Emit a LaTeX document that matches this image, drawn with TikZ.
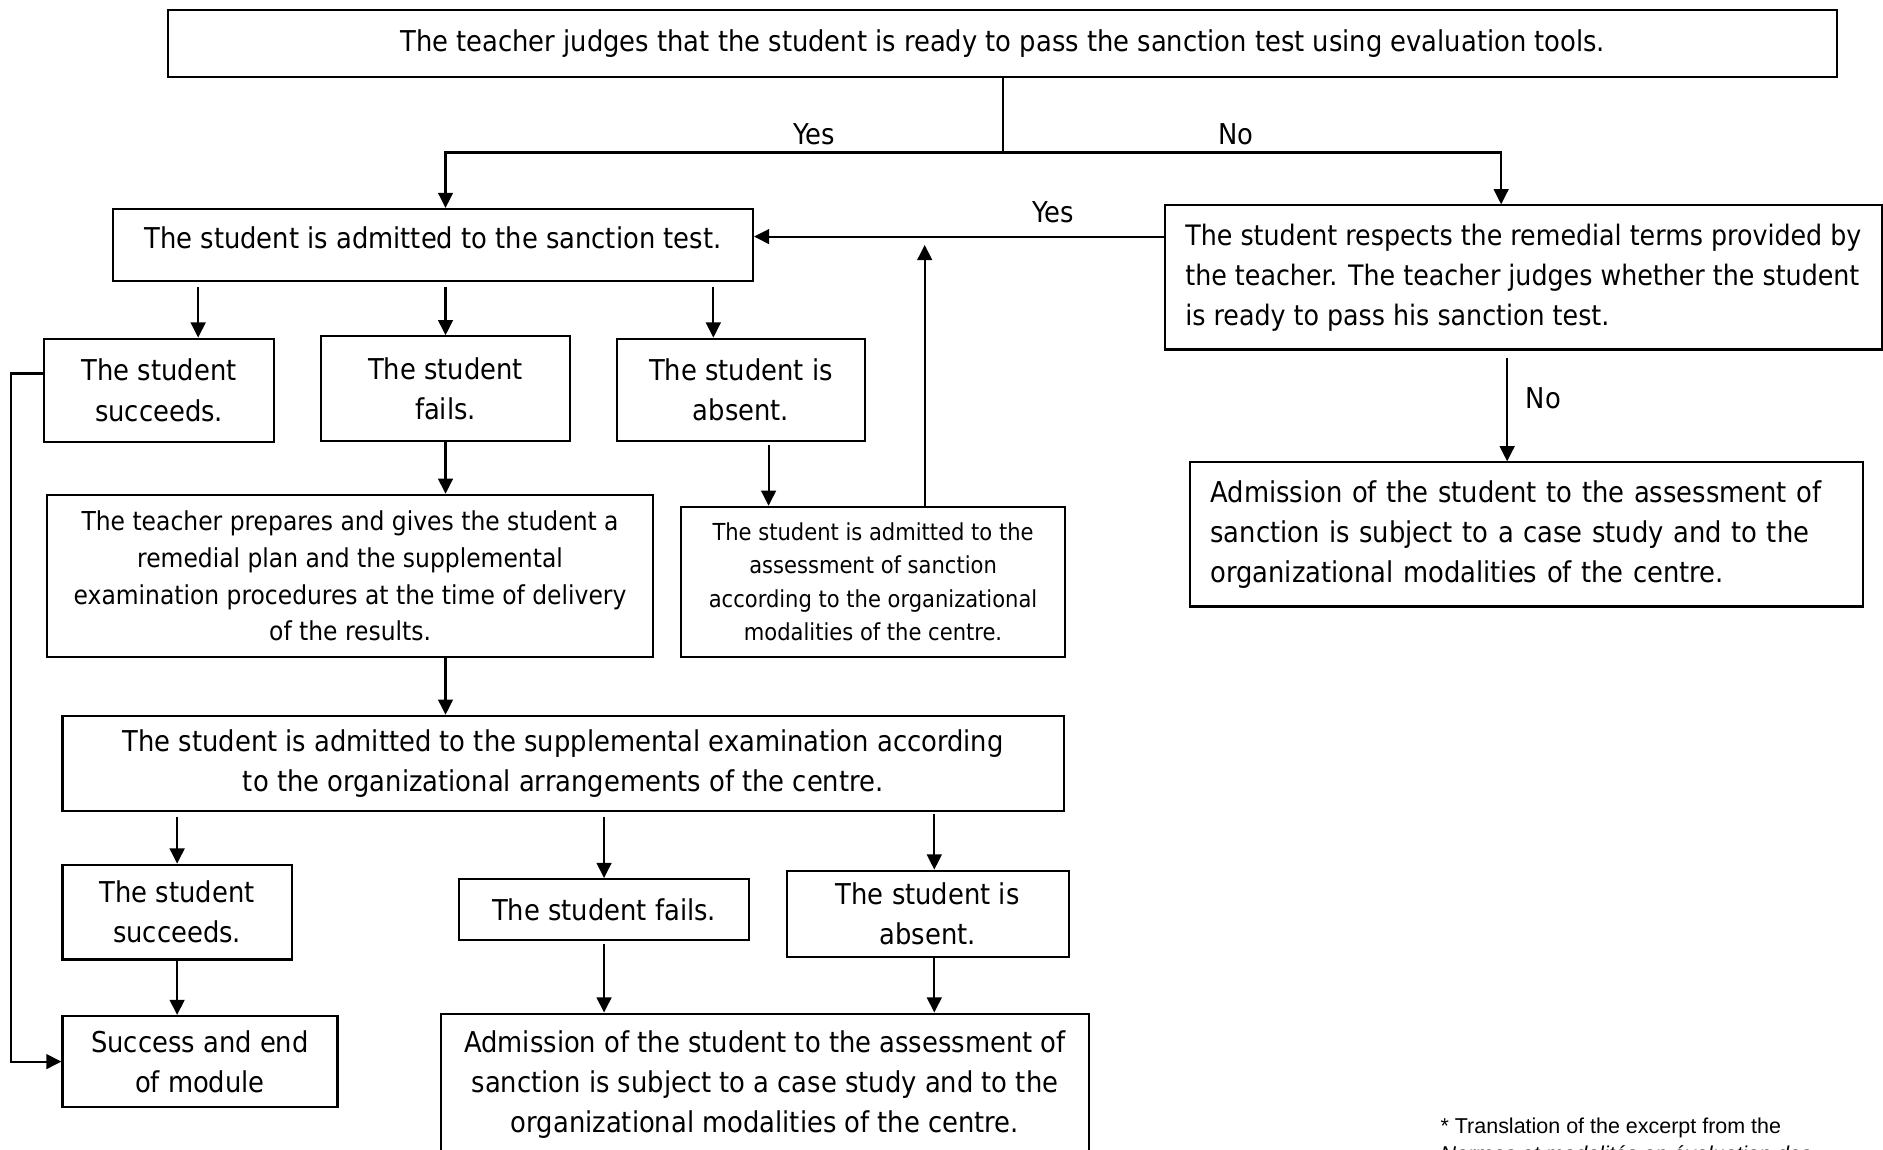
\documentclass[tikz,border=0pt]{standalone}
\usepackage{fontspec}
\setmainfont{DejaVu Sans Condensed}
\newfontfamily\notefont{Liberation Sans}
\usetikzlibrary{arrows.meta}

\tikzset{
  box/.style={draw, line width=0.6pt, inner sep=0pt, align=center, font=\fontsize{8.15}{11.4}\selectfont},
  sz/.style 2 args={minimum width=#1*0.012cm, minimum height=#2*0.012cm},
  leftbox/.style={align=left, text width=#1*0.012cm},
  smalltext/.style={font=\fontsize{7.4}{10.5}\selectfont},
  tinytext/.style={font=\fontsize{6.65}{9.5}\selectfont},
  lbl/.style={font=\fontsize{8.15}{11.4}\selectfont, inner sep=2pt},
  arr/.style={-{Triangle[length=4.3pt,width=4.2pt]}, line width=0.6pt},
}

\begin{document}
\begin{tikzpicture}[x=0.012cm, y=-0.012cm]
\useasboundingbox (0,0) rectangle (1568,957);

\node[box, sz={1390}{56}] (T) at (835,36)
  {The teacher judges that the student is ready to pass the sanction test using evaluation tools.};
\node[box, sz={533}{60}, text depth=4pt] (A) at (360.5,204) {The student is admitted to the sanction test.};
\node[box, sz={597}{120}, align=left, font=\fontsize{8}{11.4}\selectfont] (R) at (1268.5,231)
  {The student respects the remedial terms provided by\\the teacher. The teacher judges whether the student\\is ready to pass his sanction test.};
\node[box, sz={191}{86}] (S1) at (132.5,325) {The student\\succeeds.};
\node[box, sz={207}{87}] (F1) at (371,323.5) {The student\\fails.};
\node[box, sz={206}{85}] (Ab1) at (617,324.5) {The student is\\absent.};
\node[box, sz={505}{135}, smalltext] (P) at (291.5,479.5)
  {The teacher prepares and gives the student a\\remedial plan and the supplemental\\examination procedures at the time of delivery\\of the results.};
\node[box, sz={320}{125}, tinytext] (M) at (727,484.5)
  {The student is admitted to the\\assessment of sanction\\according to the organizational\\modalities of the centre.};
\node[box, sz={834}{79}] (E) at (469,635.5)
  {The student is admitted to the supplemental examination according\\to the organizational arrangements of the centre.};
\node[box, sz={191}{79}] (S2) at (147.5,759.5) {The student\\succeeds.};
\node[box, sz={242}{51}] (F2) at (503,757.5) {The student fails.};
\node[box, sz={235}{72}] (Ab2) at (772.5,761) {The student is\\absent.};
\node[box, sz={229}{76}] (End) at (166.5,884) {Success and end\\of module};
\node[box, sz={540}{118}] (Adm2) at (637,903)
  {Admission of the student to the assessment of\\sanction is subject to a case study and to the\\organizational modalities of the centre.};
\node[box, sz={560}{120}, leftbox=526] (Adm1) at (1271,445)
  {Admission of the student to the assessment of\\sanction is subject to a case study and to the\\organizational modalities of the centre.};
\node[anchor=north west, inner sep=0pt, align=left, font=\notefont\fontsize{6.1}{8}\selectfont] (foot) at (1199,930)
  {* Translation of the excerpt from the\\\textit{Normes et modalités en évaluation des}};

% first decision
\coordinate (split) at (835,127);
\draw[line width=0.6pt] (T.south) -- (split);
\draw[arr] (split) -| node[lbl, pos=0.169, above]{Yes} (A.north -| F1.north);
\draw[arr] (split) -| node[lbl, pos=0.234, above]{No} (R.north -| 1250,0);
\draw[arr] (R.west |- 0,197) -- node[lbl, pos=0.27, above=1.5pt]{Yes} (A.east |- 0,197);
\draw[arr, shorten <=2pt] (R.south -| 1255,0) -- node[lbl, pos=0.43, right=3pt]{No} (Adm1.north -| 1255,0);

% sanction test
\draw[arr, shorten <=1.4pt] (A.south -| 165,0) -- (S1.north -| 165,0);
\draw[arr, shorten <=1.4pt] (A.south -| F1.north) -- (F1.north);
\draw[arr, shorten <=1.4pt] (A.south -| 594,0) -- (Ab1.north -| 594,0);
\draw[arr] (F1.south) -- (P.north -| F1.south);
\draw[arr, shorten <=1pt] (Ab1.south -| 640,0) -- (M.north -| 640,0);
\draw[arr] (M.north -| 770,0) -- (A.east -| 770,0);
\draw[arr] (P.south -| F1.south) -- (E.north -| F1.south);

% supplemental examination
\draw[arr, shorten <=1.4pt] (E.south -| S2.north) -- (S2.north);
\draw[arr, shorten <=1.4pt] (E.south -| F2.north) -- (F2.north);
\draw[arr, shorten <=0.6pt] (E.south -| 778,0) -- (Ab2.north -| 778,0);
\draw[arr] (S2.south) -- (End.north -| S2.south);
\draw[arr, shorten <=0.8pt] (F2.south) -- (Adm2.north -| F2.south);
\draw[arr] (Ab2.south -| 778,0) -- (Adm2.north -| 778,0);
\draw[arr] (S1.west |- 0,311) -- ++(-27,0) |- (End.west);
\end{tikzpicture}
\end{document}
